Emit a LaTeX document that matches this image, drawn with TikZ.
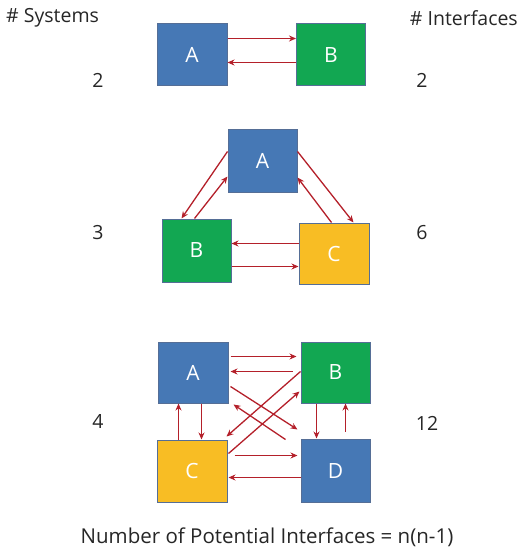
\documentclass[tikz,border=0pt]{standalone}
\usepackage{fontspec}
\setmainfont{Open Sans}
\usetikzlibrary{arrows.meta,calc}
\definecolor{bblue}{RGB}{70,120,181}
\definecolor{bgreen}{RGB}{18,167,82}
\definecolor{byellow}{RGB}{248,189,36}
\definecolor{bedge}{RGB}{85,110,150}
\definecolor{ared}{RGB}{180,32,42}
\tikzset{
  sys/.style={draw=bedge, line width=1pt, text=white, inner sep=0pt,
    font=\fontsize{21}{25}\selectfont},
  arr/.style={draw=ared, line width=1.3pt, -{Stealth[length=7pt,width=6pt]}},
  lbl/.style={font=\fontsize{19.5}{23}\selectfont, text=black!85, inner sep=0pt},
  flbl/.style={font=\fontsize{20.5}{24}\selectfont, text=black!85, inner sep=0pt}
}
\begin{document}
\begin{tikzpicture}[x=1pt,y=-1pt]
\useasboundingbox (0,0) rectangle (519,548);
% labels
\node[lbl, anchor=west] (hs) at (6,18) {\# Systems};
\node[lbl, anchor=east] (hi) at (518,18) {\# Interfaces};
\node[lbl] (n2) at (98,80) {2};
\node[lbl] (i2) at (422,80) {2};
\node[lbl] (n3) at (98,233) {3};
\node[lbl] (i6) at (422,233) {6};
\node[lbl] (n4) at (98,421) {4};
\node[lbl] (i12) at (427,423) {12};
\node[flbl] (form) at (267,537) {Number of Potential Interfaces = n(n-1)};
% row 1
\node[sys, fill=bblue, minimum width=70pt, minimum height=62pt] (A1) at (192,55) {A};
\node[sys, fill=bgreen, minimum width=69pt, minimum height=62pt] (B1) at (331,55) {B};
\draw[arr] ($(A1.north east)+(0,15)$) -- ($(B1.north west)+(0,15)$);
\draw[arr] ($(B1.north west)+(0,39)$) -- ($(A1.north east)+(0,39)$);
% row 2
\node[sys, fill=bblue, minimum width=69pt, minimum height=62pt] (A2) at (262.5,161) {A};
\node[sys, fill=bgreen, minimum width=69pt, minimum height=63pt] (B2) at (196.5,250.5) {B};
\node[sys, fill=byellow, minimum width=70pt, minimum height=61pt] (C2) at (334,253.5) {C};
\draw[arr] ($(A2.north west)+(0,22)$) -- ($(B2.north west)+(20,0)$);
\draw[arr] ($(B2.north west)+(33,0)$) -- ($(A2.north west)+(0,47)$);
\draw[arr] ($(A2.north east)+(0,22)$) -- ($(C2.north west)+(55,0)$);
\draw[arr] ($(C2.north west)+(33,0)$) -- ($(A2.north east)+(0,48)$);
\draw[arr] ($(C2.north west)+(0,21)$) -- ($(B2.north east)+(0,25)$);
\draw[arr] ($(B2.north east)+(0,48)$) -- ($(C2.north west)+(0,44)$);
% row 3
\node[sys, fill=bblue, minimum width=70pt, minimum height=61pt] (A3) at (193,372.5) {A};
\node[sys, fill=bgreen, minimum width=69pt, minimum height=61pt] (B3) at (335.5,372.5) {B};
\node[sys, fill=byellow, minimum width=70pt, minimum height=62pt] (C3) at (192,471) {C};
\node[sys, fill=bblue, minimum width=69pt, minimum height=63pt] (D3) at (335.5,470.5) {D};
\draw[arr] ($(A3.north east)+(2,15)$) -- ($(B3.north west)+(-4,15)$);
\draw[arr] ($(B3.north west)+(-8,30)$) -- ($(A3.north east)+(2,30)$);
\draw[arr] ($(A3.north east)+(2,45)$) -- ($(D3.north west)+(-3,-9)$);
\draw[arr] ($(D3.north west)+(-15,1)$) -- ($(A3.south east)+(5,1)$);
\draw[arr] ($(B3.north west)+(0,30)$) -- ($(C3.north east)+(-1,-3)$);
\draw[arr] ($(C3.north east)+(1,14)$) -- ($(B3.south west)+(-1,-12)$);
\draw[arr] ($(C3.north east)+(7,16)$) -- ($(D3.north west)+(-3,17)$);
\draw[arr] ($(D3.north west)+(0,39)$) -- ($(C3.north east)+(1,38)$);
\draw[arr] ($(A3.south west)+(44,0)$) -- ($(C3.north west)+(45,0)$);
\draw[arr] ($(C3.north west)+(22,0)$) -- ($(A3.south west)+(21,0)$);
\draw[arr] ($(B3.south west)+(16,0)$) -- ($(D3.north west)+(16,0)$);
\draw[arr] ($(D3.north west)+(45,-7)$) -- ($(B3.south west)+(45,0)$);
\end{tikzpicture}
\end{document}
